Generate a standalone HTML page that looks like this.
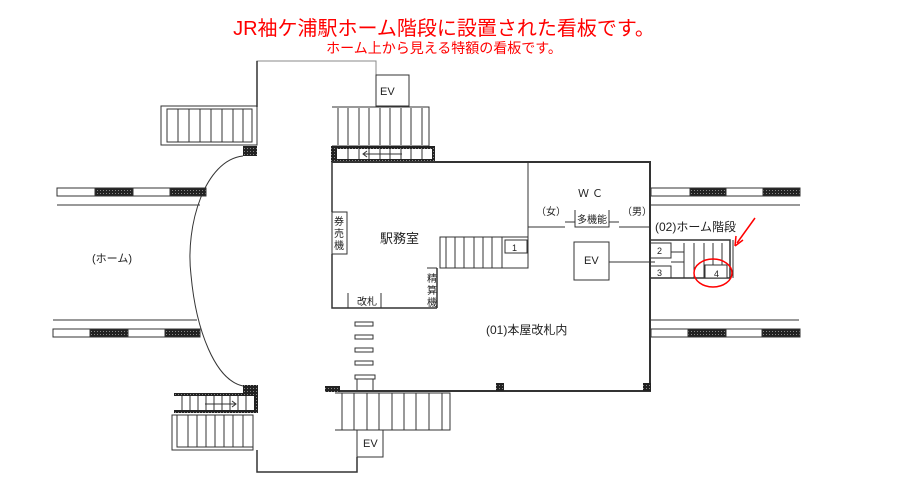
<!DOCTYPE html>
<html><head><meta charset="utf-8"><style>
body{margin:0;background:#fff;width:919px;height:491px;overflow:hidden}
svg{display:block}
text{font-family:"Liberation Sans","Noto Sans CJK JP",sans-serif;fill:#222}
</style></head><body>
<svg width="919" height="491" viewBox="0 0 919 491" xmlns="http://www.w3.org/2000/svg">
<defs>
<pattern id="hat" width="3" height="3" patternUnits="userSpaceOnUse"><rect width="3" height="3" fill="#222"/><rect x="1" y="1" width="1" height="1" fill="#888"/></pattern>
</defs>
<text x="444" y="35" font-size="20" text-anchor="middle" style="fill:#f00">JR袖ケ浦駅ホーム階段に設置された看板です。</text>
<text x="444" y="53" font-size="14" text-anchor="middle" style="fill:#f00">ホーム上から見える特額の看板です。</text>

<g stroke="#333" fill="none" stroke-width="1">
<path d="M257,107 V61 H376 V75" stroke="#888"/>
<path d="M257,107 V61" stroke-width="1.5"/>
<rect x="376" y="75" width="33" height="31" fill="#fff"/>
<rect x="161" y="106" width="96" height="39"/>
<rect x="167" y="109" width="85" height="33"/>
<path d="M178,109V142M189,109V142M200,109V142M211,109V142M222,109V142M233,109V142M243,109V142"/>
<rect x="243" y="146" width="14" height="10" fill="url(#hat)" stroke="none"/>
<path d="M243,156 C205,160 185,225 191,275 C196,330 215,380 243,386"/>
<rect x="57" y="188" width="149" height="8"/>
<rect x="95" y="188" width="38" height="8" fill="url(#hat)"/>
<rect x="170" y="188" width="36" height="8" fill="url(#hat)"/>
<path d="M57,205H200"/>
<path d="M53,320H197"/>
<rect x="53" y="329" width="147" height="8"/>
<rect x="90" y="329" width="38" height="8" fill="url(#hat)"/>
<rect x="165" y="329" width="35" height="8" fill="url(#hat)"/>
<rect x="651" y="188" width="149" height="8"/>
<rect x="690" y="188" width="36" height="8" fill="url(#hat)"/>
<rect x="763" y="188" width="37" height="8" fill="url(#hat)"/>
<path d="M651,205H800"/>
<path d="M651,320H799"/>
<rect x="651" y="329" width="149" height="8"/>
<rect x="688" y="329" width="38" height="8" fill="url(#hat)"/>
<rect x="762" y="329" width="38" height="8" fill="url(#hat)"/>
<path d="M332,107H429V146H332"/>
<path d="M338,108V145M348,108V145M359,108V145M369,108V145M380,108V145M390,108V145M401,108V145M411,108V145M422,108V145"/>
<rect x="331" y="146" width="104" height="16" fill="url(#hat)" stroke="none"/>
<rect x="337" y="149" width="95" height="10" fill="#fff" stroke="none"/>
<path d="M348,149V159M359,149V159M369,149V159M380,149V159M390,149V159M401,149V159M411,149V159M422,149V159"/>
<path d="M364,154H402M367,151L363,154L367,157"/>
<path d="M332,162H650V392" stroke-width="2"/>
<path d="M332,162V212M332,254V308H437M437,268V308" stroke-width="1.5"/>
<rect x="332" y="212" width="15" height="42"/>
<path d="M348,293V308M381,293V308"/>
<path d="M427,268H437"/>
<path d="M528,162V237"/>
<rect x="440" y="237" width="88" height="31"/>
<path d="M446,237V268M455,237V268M464,237V268M474,237V268M483,237V268M492,237V268M502,237V268"/>
<rect x="505" y="240" width="22" height="13"/>
<path d="M528,227H565M565,222H575M575,210V227H609V210M609,222H619M619,227H650"/>
<rect x="574" y="242" width="35" height="38"/>
<path d="M609,262H655"/>
<path d="M650,240H730V278H650" stroke-width="1.5"/>
<path d="M733,240V278"/>
<rect x="650" y="243" width="21" height="15"/>
<rect x="650" y="266" width="21" height="12"/>
<path d="M671,252H684V262H671M684,243V278M694,243V278M704,243V278M713,243V278M722,243V278"/>
<rect x="705" y="265" width="22" height="13" fill="#fff"/>
<path d="M336,391H650" stroke-width="2"/>
<rect x="325" y="386" width="15" height="6" fill="url(#hat)" stroke="none"/>
<rect x="496" y="383" width="8" height="8" fill="url(#hat)" stroke="none"/>
<rect x="643" y="383" width="8" height="8" fill="url(#hat)" stroke="none"/>
<rect x="355" y="322" width="18" height="4"/>
<rect x="355" y="335" width="18" height="4"/>
<rect x="355" y="348" width="18" height="4"/>
<rect x="355" y="361" width="18" height="4"/>
<path d="M357,391V379H373V391M355,375H375V379H355Z"/>
<path d="M335,393H450V430H335"/>
<path d="M342,393V430M354,393V430M367,393V430M379,393V430M392,393V430M404,393V430M416,393V430M429,393V430M442,393V430"/>
<rect x="357" y="430" width="26" height="27" fill="#fff"/>
<path d="M257,450V472H357V457" stroke-width="1.5"/>
<rect x="243" y="385" width="15" height="8" fill="url(#hat)" stroke="none"/>
<rect x="174" y="393" width="84" height="20" fill="url(#hat)" stroke="none"/>
<rect x="174" y="396" width="80" height="14" fill="#fff" stroke="none"/>
<path d="M182,396V410M190,396V410M198,396V410M206,396V410M214,396V410M222,396V410M230,396V410M238,396V410M246,396V410"/>
<path d="M205,404H236M232,401L236,404L232,407"/>
<rect x="172" y="415" width="81" height="35"/>
<rect x="177" y="415" width="76" height="32"/>
<path d="M188,415V447M197,415V447M206,415V447M215,415V447M224,415V447M233,415V447M243,415V447"/>
</g>

<g font-size="11">
<text x="380" y="95">EV</text>
<text x="92" y="262">(ホーム)</text>
<text x="380" y="243" font-size="13">駅務室</text>
<text x="334" y="225" font-size="10">券</text>
<text x="334" y="237" font-size="10">売</text>
<text x="334" y="249" font-size="10">機</text>
<text x="427" y="282" font-size="10">精</text>
<text x="427" y="294" font-size="10">算</text>
<text x="427" y="306" font-size="10">機</text>
<text x="357" y="305" font-size="10">改札</text>
<text x="512" y="251" font-size="9">1</text>
<text x="578" y="197">Ｗ Ｃ</text>
<text x="536" y="215" font-size="10">（女）</text>
<text x="622" y="215" font-size="10">（男）</text>
<text x="577" y="223" font-size="10">多機能</text>
<text x="584" y="264">EV</text>
<text x="655" y="231" font-size="12">(02)ホーム階段</text>
<text x="657" y="254" font-size="9">2</text>
<text x="657" y="276" font-size="9">3</text>
<text x="714" y="277" font-size="9">4</text>
<text x="486" y="334" font-size="12">(01)本屋改札内</text>
<text x="363" y="447">EV</text>
</g>
<path d="M755,218L737,243" stroke="#f00" stroke-width="1.5" fill="none"/>
<path d="M735,246L736,236M735,246L743,240" stroke="#f00" stroke-width="1.5" fill="none"/>
<ellipse cx="713" cy="273" rx="19" ry="14" stroke="#f00" stroke-width="1.5" fill="none"/>
</svg>
</body></html>
